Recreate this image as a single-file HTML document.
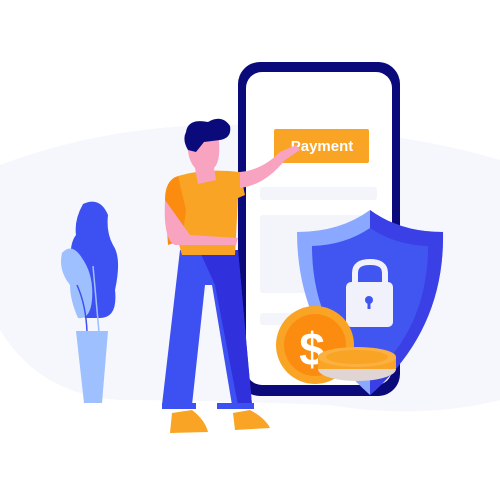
<!DOCTYPE html>
<html><head><style>html,body{margin:0;padding:0;background:#fff}svg{display:block}</style></head>
<body>
<svg width="500" height="500" viewBox="0 0 500 500" xmlns="http://www.w3.org/2000/svg">
<path d="M0 165 Q120 120 260 125 Q400 130 500 160 L500 400 Q420 420 330 405 Q200 400 120 400 Q40 395 0 330 Z" fill="#f5f7fc"/>
<!-- plant -->
<path d="M83 204 Q100 196 108 215 Q106 232 113 245 Q122 258 115 290 Q118 318 100 318 L85 318 Q70 300 72 270 Q68 245 76 235 Q74 220 83 204 Z" fill="#3d50f2"/>
<path d="M62 253 Q72 242 82 258 Q94 275 92 300 Q90 320 78 318 Q70 300 70 285 Q58 270 62 253 Z" fill="#9ec0ff"/>
<path d="M77 285 Q86 305 87 332" stroke="#3d50f2" stroke-width="1.5" fill="none"/>
<path d="M93 266 L99 332" stroke="#9ec0ff" stroke-width="1.5" fill="none"/>
<path d="M76 331 L108 331 L102 403 L84 403 Z" fill="#9ec0ff"/>
<!-- phone -->
<rect x="238" y="62" width="162" height="334" rx="22" fill="#0b0a7a"/>
<rect x="246" y="72" width="146" height="313" rx="16" fill="#fff"/>
<rect x="260" y="187" width="117" height="13" rx="3" fill="#f4f5fa"/>
<rect x="260" y="215" width="117" height="78" rx="3" fill="#f4f5fa"/>
<rect x="260" y="313" width="60" height="12" rx="3" fill="#f4f5fa"/>
<rect x="274" y="129" width="95" height="34" rx="2" fill="#f9a424"/>
<text x="322" y="151" text-anchor="middle" font-family="Liberation Sans, sans-serif" font-size="15" font-weight="bold" fill="#fff">Payment</text>
<!-- shield -->
<path d="M370 210 Q400 232 443 232 Q445 330 370 395 Q297 330 297 232 Q340 232 370 210 Z" fill="#8aa8ff"/>
<path d="M370 210 Q400 232 443 232 Q445 330 370 395 Z" fill="#3a3fe6"/>
<path d="M370 228 Q395 245 428 246 Q428 328 370 378 Q312 328 312 246 Q345 245 370 228 Z" fill="#4156f0"/>
<path d="M355 284 L355 273 Q355 262 370 262 Q385 262 385 273 L385 284" fill="none" stroke="#f1f1fb" stroke-width="6"/>
<rect x="346" y="282" width="47" height="45" rx="5" fill="#f1f1fb"/>
<circle cx="369" cy="300" r="4" fill="#4156f0"/><rect x="367.5" y="300" width="3" height="9" fill="#4156f0"/>
<!-- coins -->
<circle cx="315" cy="345" r="39" fill="#f9a424"/>
<circle cx="315" cy="345" r="31" fill="#fb8c10"/>
<text x="312" y="365" text-anchor="middle" font-family="Liberation Sans, sans-serif" font-size="46" font-weight="bold" fill="#fff">$</text>
<ellipse cx="357" cy="369" rx="39" ry="12" fill="#e0d5d3"/>
<rect x="318" y="357" width="78" height="12" fill="#f9a424"/>
<ellipse cx="357" cy="357" rx="39" ry="10" fill="#fbb040"/>
<ellipse cx="357" cy="357" rx="31" ry="7" fill="#f9a424"/>
<!-- person -->
<path d="M172 413 L192 410 Q205 420 208 432 L170 433 Z" fill="#f9a424"/>
<path d="M233 413 L250 410 Q265 418 270 428 L235 430 Z" fill="#f9a424"/>
<path d="M180 250 L238 250 L252 405 L232 405 L212 285 L205 285 L192 405 L162 405 Z" fill="#3d50f2"/>
<path d="M200 252 L238 250 L252 405 L238 405 L215 285 Z" fill="#3030dd"/>
<rect x="162" y="403" width="34" height="6" fill="#3d50f2"/>
<rect x="217" y="403" width="37" height="6" fill="#3d50f2"/>
<path d="M178 176 Q205 168 240 172 L245 195 L238 198 L235 255 L182 255 Q172 225 178 176 Z" fill="#f9a424"/>
<path d="M178 176 Q165 180 165 200 L168 245 L182 240 L186 210 Z" fill="#fb8c10"/>
<path d="M165 200 Q163 240 175 245 L236 245 L238 238 L190 235 Z" fill="#f8a4c0"/>
<path d="M240 172 L240 188 Q265 185 285 160 L300 150 L296 145 L280 152 Q262 170 240 172 Z" fill="#f8a4c0"/>
<path d="M188 138 L218 132 Q222 160 214 168 L216 180 L198 184 L195 168 Q186 158 188 138 Z" fill="#f8a4c0"/>
<path d="M186 132 Q188 118 208 122 Q222 114 230 126 Q232 138 220 140 L204 142 L196 152 L188 150 Q182 140 186 132 Z" fill="#0b0a7a"/>
</svg>
</body></html>
